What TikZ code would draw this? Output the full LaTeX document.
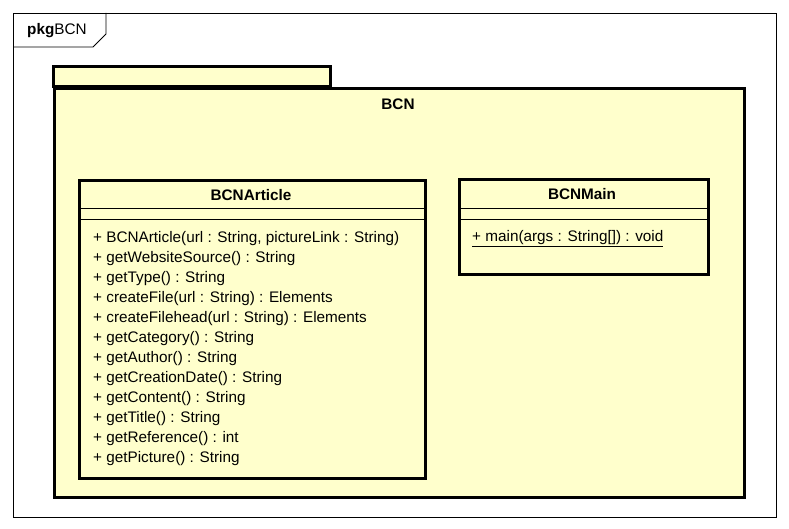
\documentclass[tikz,border=0pt]{standalone}
\usepackage{fontspec}
\setmainfont{Liberation Sans}
\usetikzlibrary{positioning}
\definecolor{umlbg}{RGB}{255,255,204}
\tikzstyle{frame} = [draw, line width=0.8pt]
\tikzstyle{pkg} = [draw, fill=umlbg, line width=3pt]
\tikzstyle{classbox} = [draw, fill=umlbg, line width=3pt, rectangle,
    anchor=north west, inner sep=0pt]
\tikzstyle{sep} = [line width=1pt]
\tikzstyle{title} = [font=\fontsize{15.3}{17}\selectfont\bfseries, inner sep=0pt]
\tikzstyle{ops} = [anchor=north west, align=left, inner sep=0pt,
    font=\fontsize{15.3}{20}\selectfont]

\begin{document}
\begin{tikzpicture}[x=1pt, y=-1pt]
  \useasboundingbox (0,0) rectangle (789,529);
  % Outer frame
  \draw [frame] (13,13) rectangle (776,517);
  \draw [frame] (13,47) -- (93,47) -- (106,34) -- (106,13);
  \node [anchor=west, inner sep=0pt, font=\fontsize{15.3}{17}\selectfont]
    (frametitle) at (27,31) {\textbf{pkg}BCN};

  % Package
  \draw [pkg] (53,67) rectangle (330,87);
  \node [classbox, minimum width=690pt, minimum height=409pt] (bcn) at (53,87) {};
  \node [title] (bcnname) at (398,104) {BCN};

  % Classes
  \node [classbox, minimum width=346pt, minimum height=298pt] (article) at (78,179) {};
  \node [title] (articlename) at (251,195) {BCNArticle};
  \draw [sep] (article.west |- 0,209) -- (article.east |- 0,209);
  \draw [sep] (article.west |- 0,220) -- (article.east |- 0,220);
  \node [ops] (articleops) at (93,231) {+ BCNArticle(url : String, pictureLink : String)\\
    + getWebsiteSource() : String\\
    + getType() : String\\
    + createFile(url : String) : Elements\\
    + createFilehead(url : String) : Elements\\
    + getCategory() : String\\
    + getAuthor() : String\\
    + getCreationDate() : String\\
    + getContent() : String\\
    + getTitle() : String\\
    + getReference() : int\\
    + getPicture() : String};

  \node [classbox, minimum width=249pt, minimum height=95pt] (main) at (458,178) {};
  \node [title] (mainname) at (582,194) {BCNMain};
  \draw [sep] (main.west |- 0,209) -- (main.east |- 0,209);
  \draw [sep] (main.west |- 0,220) -- (main.east |- 0,220);
  \node [ops] (mainops) at (472,230) {\underline{+ main(args : String[]) : void}};
\end{tikzpicture}
\end{document}
